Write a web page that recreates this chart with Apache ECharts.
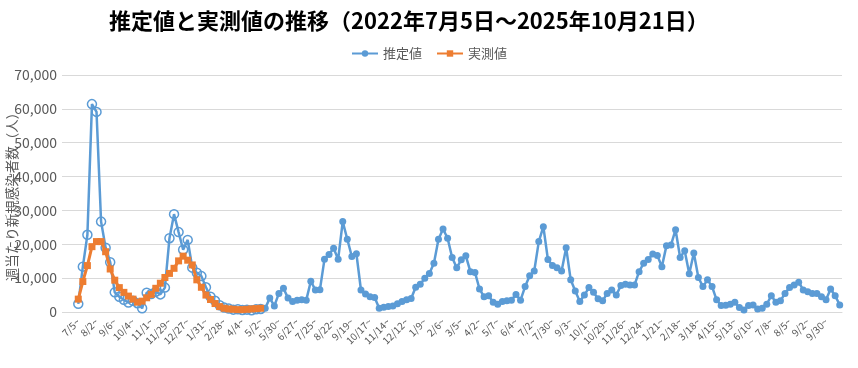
<!DOCTYPE html>
<html>
<head>
<meta charset="utf-8">
<script src="https://cdn.jsdelivr.net/npm/echarts@6/dist/echarts.min.js"></script>
<style>
html,body{margin:0;padding:0;background:#fff;}
#main{width:858px;height:368px;}
</style>
</head>
<body>
<div id="main"></div>
<script>
// Tick labels shown on the x axis (every 4th category)
const tickLabels = ['7/5','8/2','9/6','10/4','11/1','11/29','12/27','1/31','2/28','4/4','5/2','5/30','6/27','7/25','8/22','9/19','10/17','11/14','12/12','1/9','2/6','3/5','4/2','5/7','6/4','7/2','7/30','9/3','10/1','10/29','11/26','12/24','1/21','2/18','3/18','4/15','5/13','6/10','7/8','8/5','9/2','9/30'];

// 推定値 (estimated), weekly
const estimated = [
2400,13400,22800,61400,59100,26700,19000,14700,5800,4500,
3600,2800,3300,2600,1100,5700,5300,6000,5200,7200,
21800,28900,23600,18400,21300,13100,11600,10600,7300,4500,
3300,2000,1300,1000,700,800,600,700,500,800,
900,1100,4100,1800,5500,7000,4100,3100,3500,3600,
3500,9100,6500,6600,15600,17000,18800,15600,26700,21500,
16400,17200,6500,5300,4500,4300,1100,1400,1600,1800,
2400,3100,3600,4000,7300,8200,10000,11400,14400,21500,
24500,21800,16100,13100,15400,16600,11900,11700,6800,4500,
4800,2900,2300,3100,3300,3500,5200,3500,7500,10700,
12100,20800,25200,15500,13700,13100,12100,19000,9500,6200,
3100,5000,7200,5800,3900,3300,5500,6500,5000,7800,
8200,8000,8000,11900,14400,15500,17100,16700,13400,19600,
19800,24300,16100,18100,11300,17400,10200,7500,9500,7500,
3600,1900,2000,2300,2900,1300,600,1900,2100,900,
1100,2300,4800,2900,3300,5500,7200,8000,8800,6500,
6000,5500,5500,4500,3600,6800,4800,2100
];

// 実測値 (measured), weekly until May 2023
const measured = [
3800,9000,13700,19300,20800,20800,17800,12700,9400,7200,
5800,4700,3800,2900,3200,4200,5200,7000,8500,10200,
11400,12900,15100,16500,15300,13900,9500,7300,5000,3700,
2500,1600,1100,900,800,700,700,800,900,1000,
1100
];

// Build category list: each tick label followed by the next three weeks
const categories = [];
let year = 2022, prevMonth = 0;
function fmt(d){ return (d.getMonth()+1) + '/' + d.getDate() + '~'; }
tickLabels.forEach(function(lbl){
  const p = lbl.split('/');
  const m = +p[0], d = +p[1];
  if (m < prevMonth) year++;
  prevMonth = m;
  const base = new Date(year, m-1, d);
  categories.push(lbl + '~');
  for (let k = 1; k <= 3; k++) {
    if (categories.length >= estimated.length) break;
    const nd = new Date(base.getTime() + k*7*86400000);
    categories.push(fmt(nd) + ' ');
  }
});
while (categories.length > estimated.length) categories.pop();

const BLUE = '#5B9BD5', ORANGE = '#ED7D31';
const estData = estimated.map(function(v, i){
  if (i < measured.length) {
    return {value: v, symbolSize: 9, itemStyle: {color: 'rgba(255,255,255,0)', borderColor: BLUE, borderWidth: 1.5}};
  }
  return {value: v};
});

const chart = echarts.init(document.getElementById('main'));
chart.setOption({
  animation: false,
  textStyle: {fontFamily: '"Noto Sans CJK JP", "Noto Sans", sans-serif'},
  title: {
    text: '推定値と実測値の推移（2022年7月5日～2025年10月21日）',
    left: 104, top: 5,
    textStyle: {fontSize: 22, fontWeight: 'bold', color: '#000', fontFamily: '"Noto Sans CJK JP", sans-serif'}
  },
  legend: {
    top: 42, left: 'center',
    itemWidth: 26, itemHeight: 8, itemGap: 14,
    textStyle: {fontSize: 13, color: '#595959'},
    data: ['推定値', '実測値']
  },
  grid: {left: 76, right: 16, top: 75, bottom: 56, containLabel: false, outerBoundsMode: 'none'},
  xAxis: {
    type: 'category',
    data: categories,
    boundaryGap: true,
    axisLine: {lineStyle: {color: '#D9D9D9', width: 1}},
    axisTick: {show: false},
    axisLabel: {
      interval: 3, rotate: 45, fontSize: 10, color: '#595959', margin: 8,
      formatter: function(v){ return v.trim(); }
    }
  },
  yAxis: {
    type: 'value', min: 0, max: 70000, interval: 10000,
    name: '週当たり新規感染者数（人）',
    nameLocation: 'middle', nameRotate: 90, nameGap: 57, nameMoveOverlap: false,
    nameTextStyle: {fontSize: 13.5, color: '#595959'},
    axisLine: {show: false},
    axisTick: {show: true, length: 14, lineStyle: {color: '#D9D9D9'}},
    axisLabel: {fontSize: 14, color: '#595959', margin: 19,
      formatter: function(v){ return v.toLocaleString('en-US'); }},
    splitLine: {lineStyle: {color: '#D9D9D9', width: 1}}
  },
  series: [
    {
      name: '推定値', type: 'line', data: estData,
      symbol: 'circle', symbolSize: 7, showAllSymbol: true,
      itemStyle: {color: BLUE},
      lineStyle: {color: BLUE, width: 2.5},
      z: 2
    },
    {
      name: '実測値', type: 'line', data: measured,
      symbol: 'rect', symbolSize: 7, showAllSymbol: true,
      itemStyle: {color: ORANGE},
      lineStyle: {color: ORANGE, width: 3},
      z: 3
    }
  ]
});
</script>
</body>
</html>
